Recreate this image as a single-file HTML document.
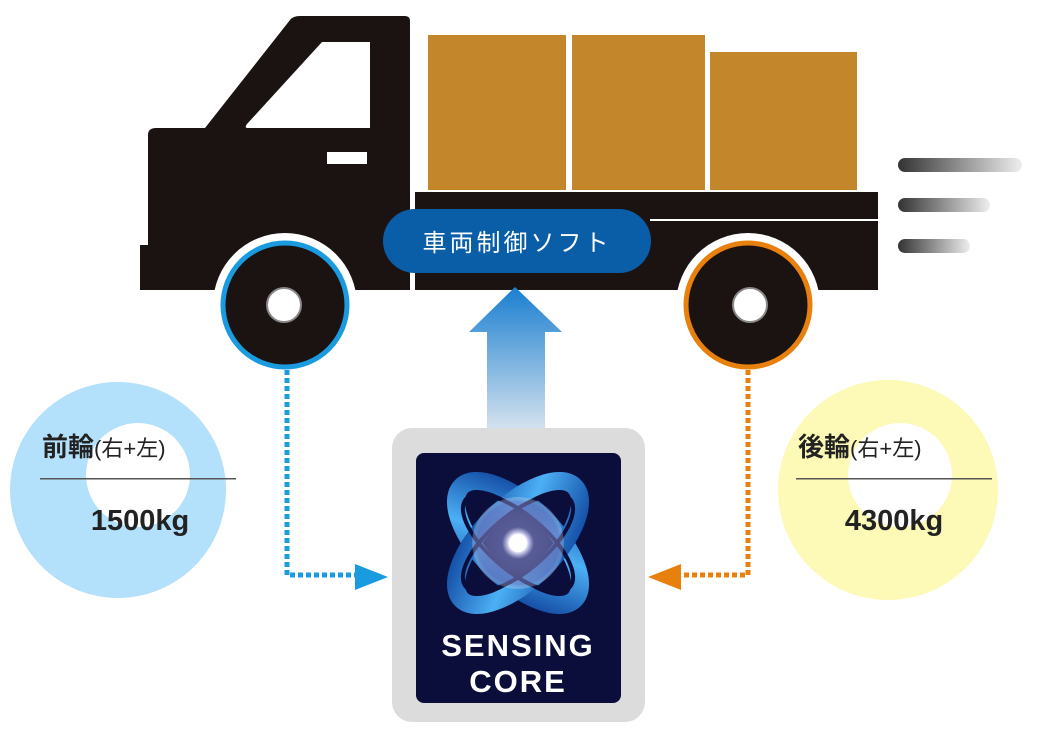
<!DOCTYPE html>
<html><head><meta charset="utf-8"><style>
body{margin:0;background:#fff}
svg{display:block}
text{font-family:"Liberation Sans","Noto Sans CJK JP",sans-serif}
</style></head><body>
<svg width="1040" height="740" viewBox="0 0 1040 740">
<defs>
<linearGradient id="sp" x1="0" x2="1"><stop offset="0" stop-color="#333"/><stop offset="1" stop-color="#eee"/></linearGradient>
<linearGradient id="up" x1="0" y1="0" x2="0" y2="1"><stop offset="0" stop-color="#1a7fd0"/><stop offset="1" stop-color="#d8e4ef"/></linearGradient>
<linearGradient id="ring" x1="0" y1="0" x2="1" y2="1"><stop offset="0" stop-color="#0b3f9a"/><stop offset=".5" stop-color="#4cb0f5"/><stop offset="1" stop-color="#0b3f9a"/></linearGradient>
<radialGradient id="glow"><stop offset="0" stop-color="#fff"/><stop offset=".2" stop-color="#e8e8ff"/><stop offset=".35" stop-color="#6a6fae" stop-opacity=".8"/><stop offset=".9" stop-color="#8a8ccc" stop-opacity=".5"/><stop offset="1" stop-color="#fff" stop-opacity=".2"/></radialGradient>
</defs>
<!-- circles -->
<circle cx="118" cy="490" r="108" fill="#b3e0fb"/>
<circle cx="138" cy="475" r="52" fill="#fff"/>
<circle cx="888" cy="490" r="110" fill="#fdf9b6"/>
<circle cx="900" cy="475" r="52" fill="#fff"/>
<!-- speed lines -->
<rect x="898" y="158" width="124" height="14" rx="7" fill="url(#sp)"/>
<rect x="898" y="198" width="92" height="14" rx="7" fill="url(#sp)"/>
<rect x="898" y="239" width="72" height="14" rx="7" fill="url(#sp)"/>
<!-- boxes -->
<rect x="428" y="35" width="138" height="155" fill="#c4862a"/>
<rect x="572" y="35" width="133" height="155" fill="#c4862a"/>
<rect x="710" y="52" width="147" height="138" fill="#c4862a"/>
<!-- truck -->
<path d="M300 16 H405 Q410 16 410 21 V290 H140 V245 H148 V135 Q148 128 156 128 H205 L290 20 Q293 16 300 16Z" fill="#1a1311"/>
<path d="M322 42 H370 V128 H248 Q244 128 247 124 Z" fill="#fff"/>
<rect x="327" y="152" width="40" height="12" fill="#fff"/>
<rect x="415" y="192" width="463" height="98" fill="#1a1311"/>
<rect x="650" y="219" width="228" height="2" fill="#fff"/>
<!-- wheel arches -->
<circle cx="285" cy="305" r="72" fill="#fff"/>
<circle cx="748" cy="305" r="72" fill="#fff"/>
<rect x="140" y="291" width="740" height="60" fill="#fff"/>
<circle cx="285" cy="305" r="62" fill="#1a1311" stroke="#1a9be0" stroke-width="5"/>
<circle cx="748" cy="305" r="62" fill="#1a1311" stroke="#e8800e" stroke-width="5"/>
<circle cx="284" cy="305" r="17" fill="#fff" stroke="#888" stroke-width="2"/>
<circle cx="750" cy="305" r="17" fill="#fff" stroke="#888" stroke-width="2"/>
<!-- pill -->
<rect x="383" y="209" width="268" height="64" rx="32" fill="#0a5ea8"/>
<text x="517" y="251" font-size="24" fill="#fff" text-anchor="middle" letter-spacing="3">車両制御ソフト</text>
<!-- up arrow -->
<path d="M515 287 L562 332 H545 V432 H487 V332 H469 Z" fill="url(#up)"/>
<!-- connectors -->
<path d="M287 370 V575 H355" fill="none" stroke="#1a9be0" stroke-width="5" stroke-dasharray="5 3"/>
<path d="M388 577 L355 564 V590 Z" fill="#1a9be0"/>
<path d="M748 370 V575 H680" fill="none" stroke="#e8800e" stroke-width="5" stroke-dasharray="5 3"/>
<path d="M648 577 L681 564 V590 Z" fill="#e8800e"/>
<!-- labels -->
<text x="42" y="456" font-size="26" font-weight="bold" fill="#222">前輪<tspan font-size="22" font-weight="normal">(右+左)</tspan></text>
<rect x="40" y="478" width="196" height="1.5" fill="#555"/>
<text x="140" y="530" font-size="29" font-weight="bold" fill="#222" text-anchor="middle">1500kg</text>
<text x="798" y="456" font-size="26" font-weight="bold" fill="#222">後輪<tspan font-size="22" font-weight="normal">(右+左)</tspan></text>
<rect x="796" y="478" width="196" height="1.5" fill="#555"/>
<text x="894" y="530" font-size="29" font-weight="bold" fill="#222" text-anchor="middle">4300kg</text>
<!-- sensing core -->
<rect x="392" y="428" width="253" height="294" rx="20" fill="#dcdcdc"/>
<rect x="416" y="453" width="205" height="250" rx="8" fill="#0b0e3a"/>
<g transform="translate(518,543)" fill="none" stroke="url(#ring)">
<ellipse rx="80" ry="36" transform="rotate(45)" stroke-width="18"/>
<ellipse rx="80" ry="36" transform="rotate(-45)" stroke-width="18"/>
<ellipse rx="68" ry="28" transform="rotate(40)" stroke-width="4" stroke="#0b0e3a"/>
<ellipse rx="68" ry="28" transform="rotate(-40)" stroke-width="4" stroke="#0b0e3a"/>
</g>
<circle cx="518" cy="543" r="46" fill="url(#glow)"/>
<circle cx="518" cy="543" r="9" fill="#fff"/>
<text x="518" y="656" font-size="31" font-weight="bold" fill="#fff" text-anchor="middle" letter-spacing="2">SENSING</text>
<text x="518" y="692" font-size="31" font-weight="bold" fill="#fff" text-anchor="middle" letter-spacing="2">CORE</text>
</svg>
</body></html>
